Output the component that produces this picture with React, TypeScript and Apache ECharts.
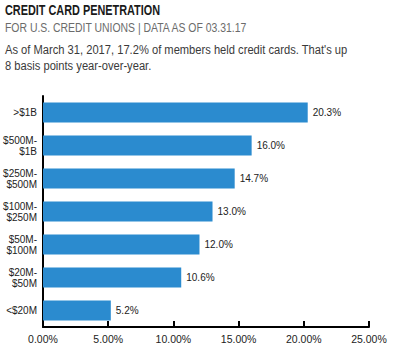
import React, { useEffect, useRef } from "react";
import * as echarts from "echarts";

const categories = [">$1B", "$500M-\n$1B", "$250M-\n$500M", "$100M-\n$250M", "$50M-\n$100M", "$20M-\n$50M", "<$20M"];
const values = [20.3, 16.0, 14.7, 13.0, 12.0, 10.6, 5.2];
const title = "CREDIT CARD PENETRATION";
const subtitle = "FOR U.S. CREDIT UNIONS | DATA AS OF 03.31.17";
const bodyLines = ["As of March 31, 2017, 17.2% of members held credit cards. That's up", "8 basis points year-over-year."];

const SANS = "'Liberation Sans', Arial, sans-serif";

function measure(text: string, font: string): number {
  const c = document.createElement("canvas").getContext("2d")!;
  c.font = font;
  return c.measureText(text).width;
}

function narrowText(text: string, font: string, x: number, y: number, targetW: number, fill: string) {
  const w = measure(text, font);
  return {
    type: "text",
    x,
    y,
    scaleX: targetW / w,
    style: { text, font, fill, verticalAlign: "top", align: "left" },
  };
}

export default function App() {
  const ref = useRef<HTMLDivElement>(null);
  useEffect(() => {
    const chart = echarts.init(ref.current!, null, { renderer: "svg" });
    const bodyScaleW = 343;
    const bodyFont = `13.5px ${SANS}`;
    const bodyScale = bodyScaleW / measure(bodyLines[0], bodyFont);
    chart.setOption({
      animation: false,
      backgroundColor: "#ffffff",
      graphic: [
        narrowText(title, `bold 15px ${SANS}`, 5, 2, 155, "#1a1a1a"),
        narrowText(subtitle, `13.5px ${SANS}`, 5, 21, 243, "#6b6b6b"),
        narrowText(bodyLines[0], bodyFont, 5, 43, bodyScaleW, "#3a3a3a"),
        {
          type: "text",
          x: 5,
          y: 59,
          scaleX: bodyScale,
          style: { text: bodyLines[1], font: bodyFont, fill: "#3a3a3a", verticalAlign: "top", align: "left" },
        },
      ],
      grid: { left: 43, right: 25, top: 96, bottom: 27, containLabel: false },
      xAxis: {
        type: "value",
        min: 0,
        max: 25,
        interval: 5,
        axisLine: { show: true, lineStyle: { color: "#000", width: 2 } },
        axisTick: { show: true, inside: true, length: 6, lineStyle: { color: "#000", width: 2 } },
        splitLine: { show: false },
        axisLabel: { formatter: (v: number) => v.toFixed(2) + "%", fontFamily: SANS, fontSize: 10.5, color: "#222", margin: 6 },
      },
      yAxis: {
        type: "category",
        data: categories,
        inverse: true,
        axisLine: { show: true, lineStyle: { color: "#000", width: 2 } },
        axisTick: { show: false },
        axisLabel: { fontFamily: SANS, fontSize: 10, color: "#222", lineHeight: 11, margin: 6, align: "right" },
      },
      series: [
        {
          type: "bar",
          data: values,
          barCategoryGap: "39%",
          itemStyle: { color: "#2b8bcf" },
          label: {
            show: true,
            position: "right",
            distance: 5,
            formatter: (p: any) => p.value.toFixed(1) + "%",
            fontFamily: SANS,
            fontSize: 10,
            color: "#222",
          },
        },
      ],
    });
    return () => chart.dispose();
  }, []);
  return <div ref={ref} style={{ width: 394, height: 354, position: "absolute", left: 0, top: 0 }} />;
}
